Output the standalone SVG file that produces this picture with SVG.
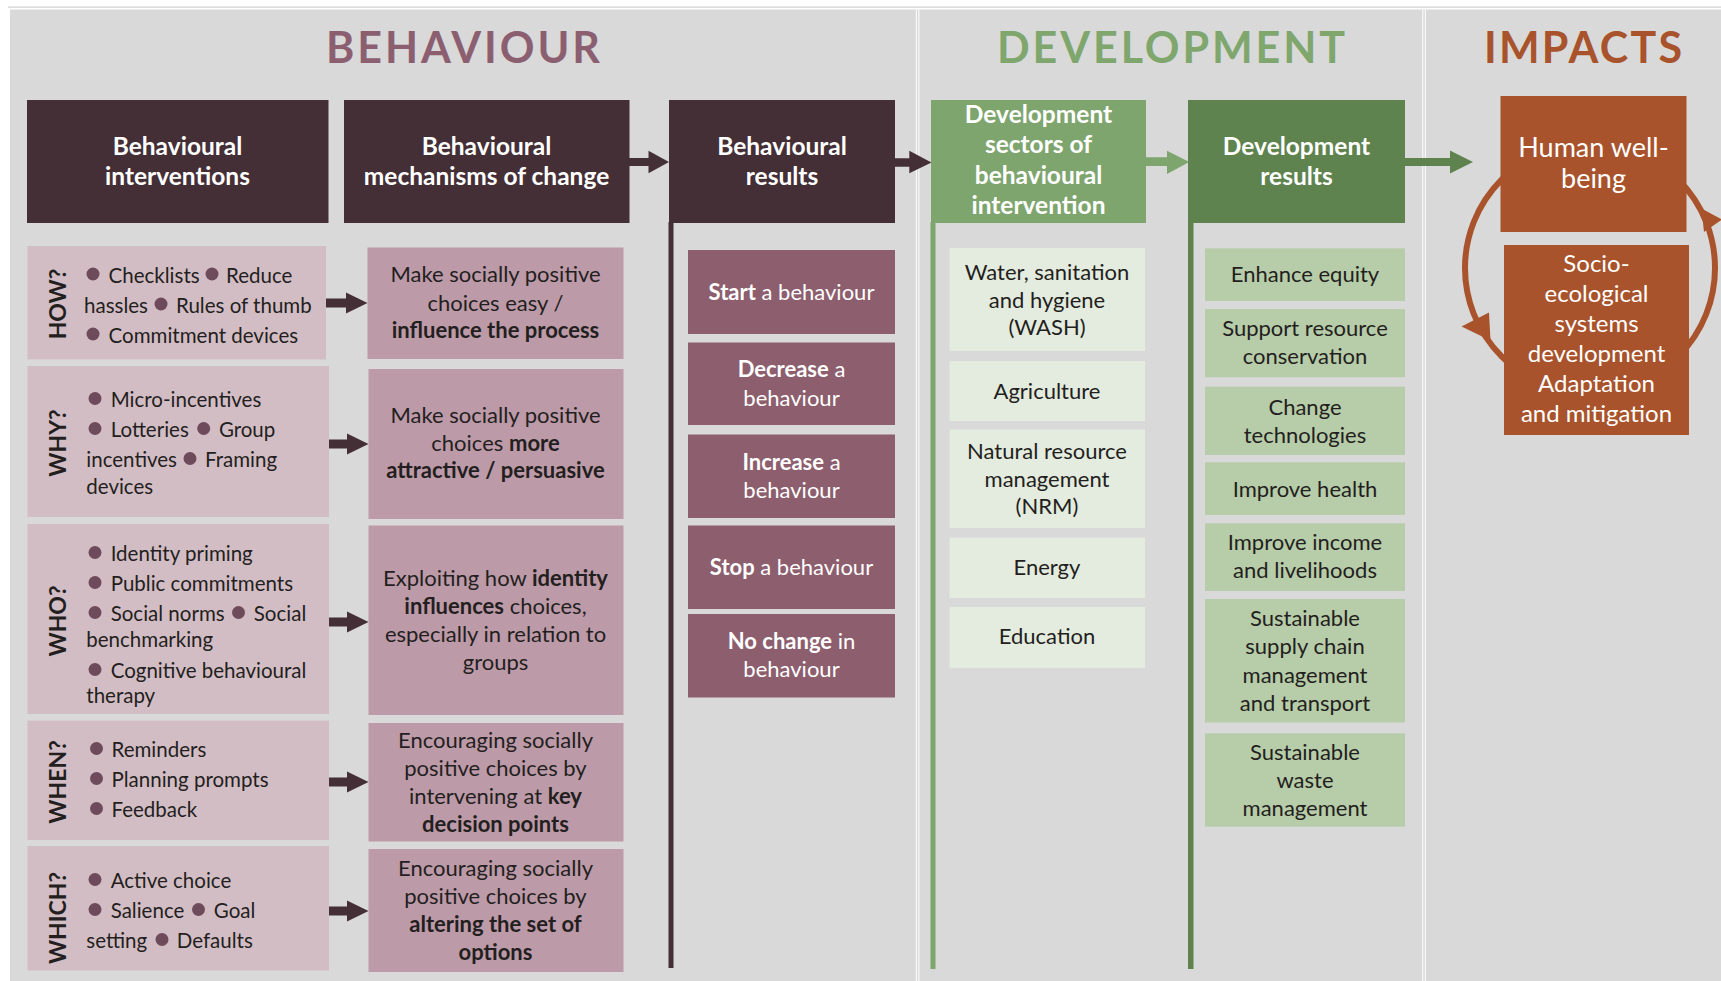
<svg xmlns="http://www.w3.org/2000/svg" width="1721" height="981" viewBox="0 0 1721 981">
<style>
text{font-family:Lato,"Liberation Sans",Arial,sans-serif}
.title{font-size:43px;font-weight:700;text-anchor:middle}
.hdr{font-size:24.5px;font-weight:700;fill:#fff;text-anchor:middle}
.bul{font-size:20.5px;fill:#231f20}
.lab{font-size:23px;font-weight:700;fill:#231f20;text-anchor:middle}
.mech{font-size:22px;fill:#231f20;text-anchor:middle}
.res{font-size:22px;fill:#fff;text-anchor:middle}
.dev{font-size:22px;fill:#231f20;text-anchor:middle}
.imp{fill:#fff;text-anchor:middle}
.b{font-weight:700}
.dot{fill:#6e4b5a}
.dark{fill:#452f37}
.row{fill:#d3bdc5}
.mbox{fill:#bd9aa8}
.rbox{fill:#8c5e6e}
.sbox{fill:#e4ebdf}
.gbox{fill:#b7cca8}
.rust{fill:#a8532b}
</style>
<rect x="0" y="0" width="1721" height="981" fill="#ffffff"/>
<rect x="8" y="6.5" width="1713" height="1.2" fill="#cfcfcf"/>
<rect x="10" y="9.5" width="1711" height="972" fill="#d9d9d9"/>
<rect x="915.8" y="9.5" width="1" height="972" fill="#ffffff"/>
<rect x="918.4" y="9.5" width="1" height="972" fill="#ffffff"/>
<rect x="1422.3" y="9.5" width="1" height="972" fill="#ffffff"/>
<rect x="1424.8" y="9.5" width="1" height="972" fill="#ffffff"/>

<text class="title" x="463" y="63" fill="#8b5f70" textLength="274" lengthAdjust="spacing">BEHAVIOUR</text>
<text class="title" x="1171" y="63" fill="#7ea66d" textLength="348" lengthAdjust="spacing">DEVELOPMENT</text>
<text class="title" x="1583" y="63" fill="#a8532b" textLength="198" lengthAdjust="spacing">IMPACTS</text>

<g id="connectors">
  <rect x="668.5" y="222" width="5" height="746" fill="#452f37"/>
  <rect x="930.5" y="222" width="5" height="747" fill="#7fa56f"/>
  <rect x="1188" y="222" width="5.5" height="747" fill="#5f834f"/>
  <path class="dark" d="M629 158 H648.5 V150.7 L669 162 L648.5 173.3 V166 H629 Z"/>
  <path class="dark" d="M894 158.3 H909.3 V150.7 L931.5 162.5 L909.3 173.3 V166.7 H894 Z"/>
  <path fill="#7fa56f" d="M1145 157.3 H1167 V150.7 L1189.3 162 L1167 174 V166 H1145 Z"/>
  <path fill="#5f834f" d="M1404 158 H1450 V150.5 L1473 162 L1450 173.5 V166 H1404 Z"/>
  <path class="dark" d="M325 298.5 H346 V292.5 L367.5 303 L346 313.5 V307.5 H325 Z"/>
  <path class="dark" d="M328 439.5 H347 V433.5 L368.5 444 L347 454.5 V448.5 H328 Z"/>
  <path class="dark" d="M328 617.5 H347 V611.5 L368.5 622 L347 632.5 V626.5 H328 Z"/>
  <path class="dark" d="M328 777.5 H347 V771.5 L368.5 782 L347 792.5 V786.5 H328 Z"/>
  <path class="dark" d="M328 906.5 H347 V900.5 L368.5 911 L347 921.5 V915.5 H328 Z"/>
  <circle cx="1590" cy="268" r="125" fill="none" stroke="#a8532b" stroke-width="6"/>
  <polygon class="rust" points="1461.5,326.5 1489,312.5 1490.5,340.5"/>
  <polygon class="rust" points="1701.5,208.5 1704,232 1722,219.5"/>
</g>

<g id="hdr-interventions">
  <rect class="dark" x="27" y="100" width="301.5" height="123"/>
  <text class="hdr" x="177.5" y="155">Behavioural</text>
  <text class="hdr" x="177.5" y="185">interventions</text>
</g>
<g id="hdr-mechanisms">
  <rect class="dark" x="344" y="100" width="285.5" height="123"/>
  <text class="hdr" x="486.5" y="155">Behavioural</text>
  <text class="hdr" x="486.5" y="185">mechanisms of change</text>
</g>
<g id="hdr-results">
  <rect class="dark" x="669" y="100" width="226" height="123"/>
  <text class="hdr" x="782" y="155">Behavioural</text>
  <text class="hdr" x="782" y="185">results</text>
</g>
<g id="hdr-sectors">
  <rect fill="#7fa56f" x="931" y="100" width="215" height="123"/>
  <text class="hdr" x="1038.5" y="123">Development</text>
  <text class="hdr" x="1038.5" y="153">sectors of</text>
  <text class="hdr" x="1038.5" y="184">behavioural</text>
  <text class="hdr" x="1038.5" y="214">intervention</text>
</g>
<g id="hdr-devresults">
  <rect fill="#5f834f" x="1188" y="100" width="217" height="123"/>
  <text class="hdr" x="1296.5" y="155">Development</text>
  <text class="hdr" x="1296.5" y="185">results</text>
</g>

<g id="how">
  <rect class="row" x="27.5" y="246" width="298.5" height="113.5"/>
  <text class="lab" transform="translate(66 304) rotate(-90)">HOW?</text>
  <circle class="dot" cx="93" cy="274" r="6.5"/><text class="bul" x="108.6" y="283">Checklists</text>
  <circle class="dot" cx="212" cy="274" r="6.5"/><text class="bul" x="226" y="283">Reduce</text>
  <text class="bul" x="84" y="313">hassles</text>
  <circle class="dot" cx="161" cy="304" r="6.5"/><text class="bul" x="176" y="313">Rules of thumb</text>
  <circle class="dot" cx="93" cy="334" r="6.5"/><text class="bul" x="108.6" y="343">Commitment devices</text>
</g>
<g id="why">
  <rect class="row" x="27.5" y="366" width="301.5" height="151"/>
  <text class="lab" transform="translate(66 443) rotate(-90)">WHY?</text>
  <circle class="dot" cx="95" cy="398.5" r="6.5"/><text class="bul" x="110.7" y="407">Micro-incentives</text>
  <circle class="dot" cx="95" cy="428.5" r="6.5"/><text class="bul" x="110.7" y="437">Lotteries</text>
  <circle class="dot" cx="203.7" cy="428.5" r="6.5"/><text class="bul" x="218.9" y="437">Group</text>
  <text class="bul" x="86.3" y="467">incentives</text>
  <circle class="dot" cx="190" cy="458.5" r="6.5"/><text class="bul" x="205" y="467">Framing</text>
  <text class="bul" x="86.3" y="494">devices</text>
</g>
<g id="who">
  <rect class="row" x="27.5" y="524" width="301.5" height="190"/>
  <text class="lab" transform="translate(66 621) rotate(-90)">WHO?</text>
  <circle class="dot" cx="95" cy="552.5" r="6.5"/><text class="bul" x="110.7" y="561">Identity priming</text>
  <circle class="dot" cx="95" cy="582.5" r="6.5"/><text class="bul" x="110.7" y="591">Public commitments</text>
  <circle class="dot" cx="95" cy="612.5" r="6.5"/><text class="bul" x="110.7" y="621">Social norms</text>
  <circle class="dot" cx="238.5" cy="612.5" r="6.5"/><text class="bul" x="253.8" y="621">Social</text>
  <text class="bul" x="86.3" y="647">benchmarking</text>
  <circle class="dot" cx="95" cy="669.5" r="6.5"/><text class="bul" x="110.7" y="678">Cognitive behavioural</text>
  <text class="bul" x="86.3" y="703">therapy</text>
</g>
<g id="when">
  <rect class="row" x="27.5" y="720.5" width="301.5" height="119.5"/>
  <text class="lab" transform="translate(66 782) rotate(-90)">WHEN?</text>
  <circle class="dot" cx="96.5" cy="748.5" r="6.5"/><text class="bul" x="111.5" y="757">Reminders</text>
  <circle class="dot" cx="96.5" cy="778.5" r="6.5"/><text class="bul" x="111.5" y="787">Planning prompts</text>
  <circle class="dot" cx="96.5" cy="808.5" r="6.5"/><text class="bul" x="111.5" y="817">Feedback</text>
</g>
<g id="which">
  <rect class="row" x="27.5" y="846" width="301.5" height="124.5"/>
  <text class="lab" transform="translate(66 918) rotate(-90)">WHICH?</text>
  <circle class="dot" cx="95" cy="879.5" r="6.5"/><text class="bul" x="110.7" y="888">Active choice</text>
  <circle class="dot" cx="95" cy="909.5" r="6.5"/><text class="bul" x="110.7" y="918">Salience</text>
  <circle class="dot" cx="198.5" cy="909.5" r="6.5"/><text class="bul" x="213.8" y="918">Goal</text>
  <text class="bul" x="86.3" y="948">setting</text>
  <circle class="dot" cx="162" cy="939.5" r="6.5"/><text class="bul" x="176.8" y="948">Defaults</text>
</g>

<g id="mech-how">
  <rect class="mbox" x="367.5" y="247.5" width="256" height="111.5"/>
  <text class="mech" x="495.5" y="282">Make socially positive</text>
  <text class="mech" x="495.5" y="311">choices easy /</text>
  <text class="mech b" x="495.5" y="338">influence the process</text>
</g>
<g id="mech-why">
  <rect class="mbox" x="368.5" y="369" width="255" height="150"/>
  <text class="mech" x="495.5" y="423">Make socially positive</text>
  <text class="mech" x="495.5" y="451">choices <tspan class="b">more</tspan></text>
  <text class="mech b" x="495.5" y="478">attractive / persuasive</text>
</g>
<g id="mech-who">
  <rect class="mbox" x="368.5" y="525.5" width="255" height="189.5"/>
  <text class="mech" x="495.5" y="586">Exploiting how <tspan class="b">identity</tspan></text>
  <text class="mech" x="495.5" y="614"><tspan class="b">influences</tspan> choices,</text>
  <text class="mech" x="495.5" y="642">especially in relation to</text>
  <text class="mech" x="495.5" y="670">groups</text>
</g>
<g id="mech-when">
  <rect class="mbox" x="368.5" y="723" width="255" height="118.5"/>
  <text class="mech" x="495.5" y="748">Encouraging socially</text>
  <text class="mech" x="495.5" y="776">positive choices by</text>
  <text class="mech" x="495.5" y="804">intervening at <tspan class="b">key</tspan></text>
  <text class="mech b" x="495.5" y="832">decision points</text>
</g>
<g id="mech-which">
  <rect class="mbox" x="368.5" y="849" width="255" height="123"/>
  <text class="mech" x="495.5" y="876">Encouraging socially</text>
  <text class="mech" x="495.5" y="904">positive choices by</text>
  <text class="mech b" x="495.5" y="932">altering the set of</text>
  <text class="mech b" x="495.5" y="960">options</text>
</g>

<g id="res-start">
  <rect class="rbox" x="688" y="250" width="207" height="84"/>
  <text class="res" x="791.5" y="300"><tspan class="b">Start</tspan> a behaviour</text>
</g>
<g id="res-decrease">
  <rect class="rbox" x="688" y="342.5" width="207" height="82.5"/>
  <text class="res" x="791.5" y="377"><tspan class="b">Decrease</tspan> a</text>
  <text class="res" x="791.5" y="406">behaviour</text>
</g>
<g id="res-increase">
  <rect class="rbox" x="688" y="434.5" width="207" height="83.5"/>
  <text class="res" x="791.5" y="470"><tspan class="b">Increase</tspan> a</text>
  <text class="res" x="791.5" y="498">behaviour</text>
</g>
<g id="res-stop">
  <rect class="rbox" x="688" y="525.5" width="207" height="83.5"/>
  <text class="res" x="791.5" y="575"><tspan class="b">Stop</tspan> a behaviour</text>
</g>
<g id="res-nochange">
  <rect class="rbox" x="688" y="614" width="207" height="83.5"/>
  <text class="res" x="791.5" y="649"><tspan class="b">No change</tspan> in</text>
  <text class="res" x="791.5" y="677">behaviour</text>
</g>

<g id="sec-wash">
  <rect class="sbox" x="949.5" y="248" width="195.5" height="103"/>
  <text class="dev" x="1047" y="280">Water, sanitation</text>
  <text class="dev" x="1047" y="308">and hygiene</text>
  <text class="dev" x="1047" y="335">(WASH)</text>
</g>
<g id="sec-agri">
  <rect class="sbox" x="949.5" y="361" width="195.5" height="60"/>
  <text class="dev" x="1047" y="399">Agriculture</text>
</g>
<g id="sec-nrm">
  <rect class="sbox" x="949.5" y="429.5" width="195.5" height="98.5"/>
  <text class="dev" x="1047" y="459">Natural resource</text>
  <text class="dev" x="1047" y="487">management</text>
  <text class="dev" x="1047" y="514">(NRM)</text>
</g>
<g id="sec-energy">
  <rect class="sbox" x="949.5" y="537.5" width="195.5" height="60.5"/>
  <text class="dev" x="1047" y="575">Energy</text>
</g>
<g id="sec-edu">
  <rect class="sbox" x="949.5" y="607" width="195.5" height="61"/>
  <text class="dev" x="1047" y="644">Education</text>
</g>

<g id="dr-equity">
  <rect class="gbox" x="1205" y="248.3" width="200" height="52.7"/>
  <text class="dev" x="1305" y="282">Enhance equity</text>
</g>
<g id="dr-conservation">
  <rect class="gbox" x="1205" y="309" width="200" height="68.3"/>
  <text class="dev" x="1305" y="336">Support resource</text>
  <text class="dev" x="1305" y="364">conservation</text>
</g>
<g id="dr-tech">
  <rect class="gbox" x="1205" y="386.7" width="200" height="68.3"/>
  <text class="dev" x="1305" y="415">Change</text>
  <text class="dev" x="1305" y="443">technologies</text>
</g>
<g id="dr-health">
  <rect class="gbox" x="1205" y="462.3" width="200" height="52.7"/>
  <text class="dev" x="1305" y="497">Improve health</text>
</g>
<g id="dr-income">
  <rect class="gbox" x="1205" y="523.3" width="200" height="67.7"/>
  <text class="dev" x="1305" y="550">Improve income</text>
  <text class="dev" x="1305" y="578">and livelihoods</text>
</g>
<g id="dr-supply">
  <rect class="gbox" x="1205" y="599" width="200" height="123.5"/>
  <text class="dev" x="1305" y="626">Sustainable</text>
  <text class="dev" x="1305" y="654">supply chain</text>
  <text class="dev" x="1305" y="683">management</text>
  <text class="dev" x="1305" y="711">and transport</text>
</g>
<g id="dr-waste">
  <rect class="gbox" x="1205" y="733.3" width="200" height="93.4"/>
  <text class="dev" x="1305" y="760">Sustainable</text>
  <text class="dev" x="1305" y="788">waste</text>
  <text class="dev" x="1305" y="816">management</text>
</g>

<g id="imp-wellbeing">
  <rect class="rust" x="1500.5" y="96" width="186" height="136"/>
  <text class="imp" x="1593.5" y="157" font-size="27">Human well-</text>
  <text class="imp" x="1593.5" y="188" font-size="27">being</text>
</g>
<g id="imp-socio">
  <rect class="rust" x="1504" y="245" width="185" height="190"/>
  <text class="imp" x="1596.5" y="272" font-size="24">Socio-</text>
  <text class="imp" x="1596.5" y="302" font-size="24">ecological</text>
  <text class="imp" x="1596.5" y="332" font-size="24">systems</text>
  <text class="imp" x="1596.5" y="362" font-size="24">development</text>
  <text class="imp" x="1596.5" y="392" font-size="24">Adaptation</text>
  <text class="imp" x="1596.5" y="422" font-size="24">and mitigation</text>
</g>
</svg>
